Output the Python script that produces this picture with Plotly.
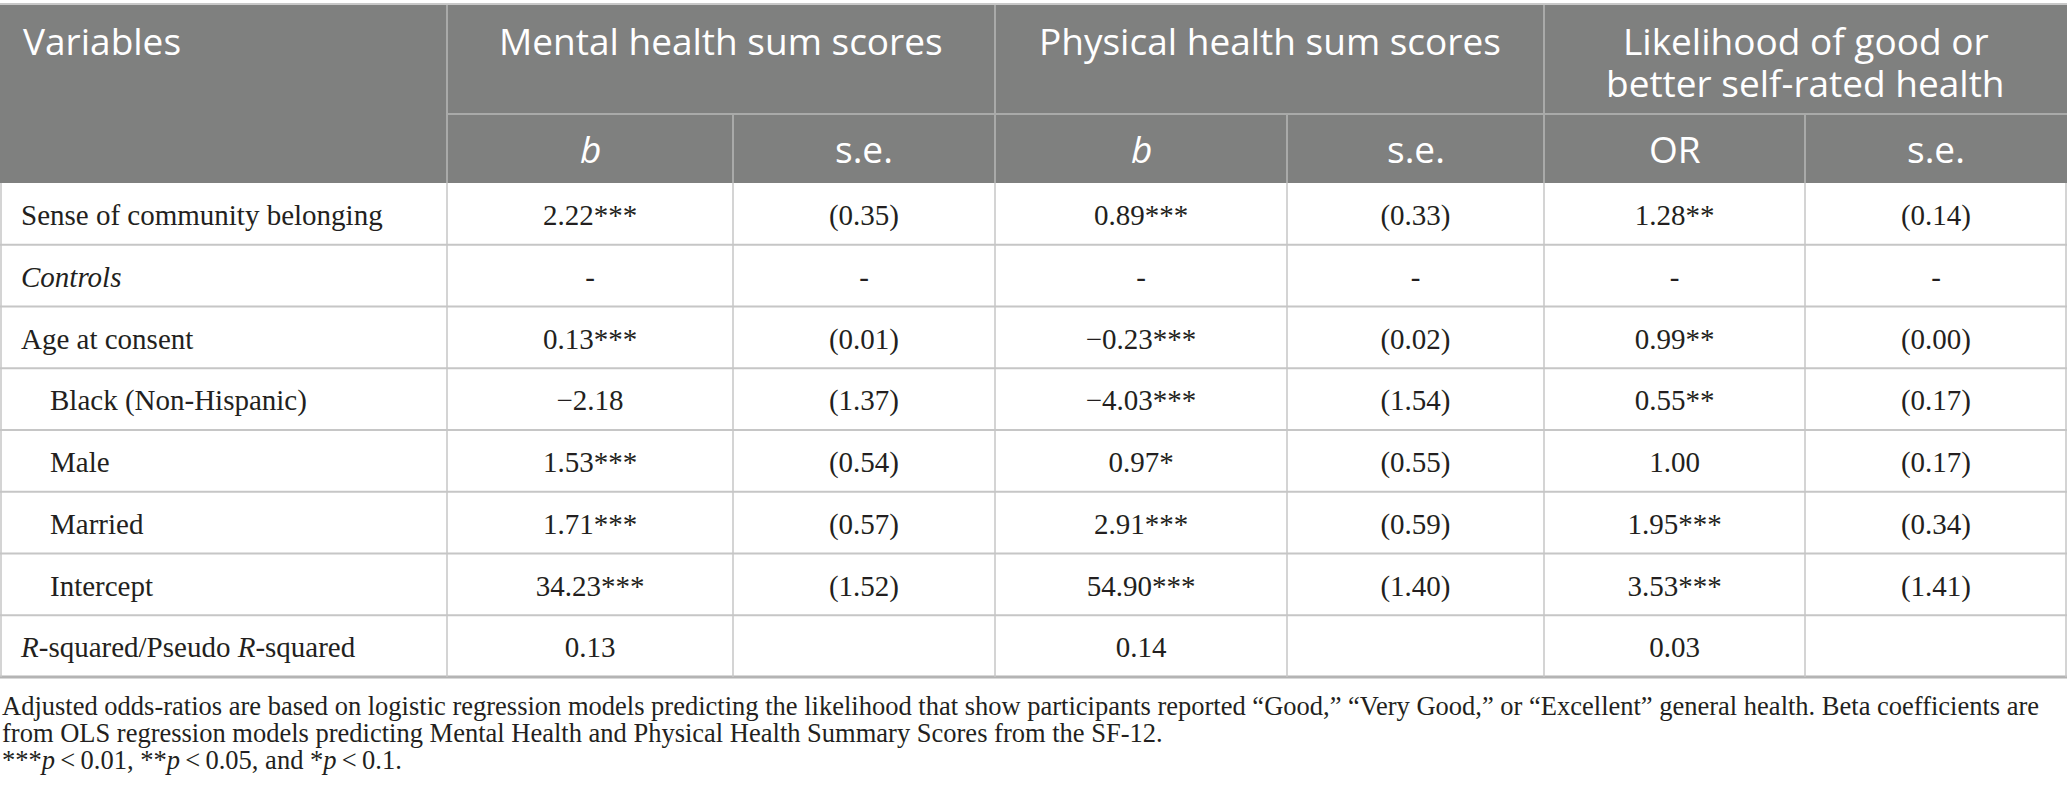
import plotly.graph_objects as go

# ---------------- data ----------------
variables = ["Sense of community belonging", "<i>Controls</i>", "Age at consent",
             "Black (Non-Hispanic)", "Male", "Married", "Intercept",
             "<i>R</i>-squared/Pseudo <i>R</i>-squared"]
indent = [0, 0, 0, 1, 1, 1, 1, 0]
mental_b = ["2.22***", "-", "0.13***", "\u22122.18", "1.53***", "1.71***", "34.23***", "0.13"]
mental_se = ["(0.35)", "-", "(0.01)", "(1.37)", "(0.54)", "(0.57)", "(1.52)", ""]
physical_b = ["0.89***", "-", "\u22120.23***", "\u22124.03***", "0.97*", "2.91***", "54.90***", "0.14"]
physical_se = ["(0.33)", "-", "(0.02)", "(1.54)", "(0.55)", "(0.59)", "(1.40)", ""]
or_vals = ["1.28**", "-", "0.99**", "0.55**", "1.00", "1.95***", "3.53***", "0.03"]
or_se = ["(0.14)", "-", "(0.00)", "(0.17)", "(0.17)", "(0.34)", "(1.41)", ""]

group_headers = [["Mental health sum scores"], ["Physical health sum scores"],
                 ["Likelihood of good or", "better self-rated health"]]
sub_headers = ["<i>b</i>", "s.e.", "<i>b</i>", "s.e.", "OR", "s.e."]
footnotes = [
    "Adjusted odds-ratios are based on logistic regression models predicting the likelihood that show participants reported \u201cGood,\u201d \u201cVery Good,\u201d or \u201cExcellent\u201d general health. Beta coefficients are",
    "from OLS regression models predicting Mental Health and Physical Health Summary Scores from the SF-12.",
    "***<i>p</i>\u2009<\u20090.01, **<i>p</i>\u2009<\u20090.05, and *<i>p</i>\u2009<\u20090.1.",
]

# ---------------- layout constants ----------------
W, H = 2067, 807
col_edges = [0, 447, 733, 995, 1287, 1544, 1805, 2067]
head_top, head_mid, head_bot = 5, 114, 183
row_h = 61.75
n_rows = len(variables)
body_bot = head_bot + n_rows * row_h
text_dy = 4

HEAD_BG = "#7f807f"
HEAD_LINE = "#a9aaa9"
BODY_LINE = "#c6c6c6"
TXT = "#231f20"
SANS = "Open Sans"
SERIF = "Liberation Serif"
HEAD_SIZE = 37
BODY_SIZE = 29
NOTE_SIZE = 26.5

fig = go.Figure()

row_centers = [head_bot + (i + 0.5) * row_h + text_dy for i in range(n_rows)]

# left column
fig.add_trace(go.Scatter(
    x=[21 if d == 0 else 50 for d in indent], y=row_centers, text=variables,
    mode="text", textposition="middle right",
    textfont=dict(family=SERIF, size=BODY_SIZE, color=TXT), hoverinfo="skip", showlegend=False))

cols = [mental_b, mental_se, physical_b, physical_se, or_vals, or_se]
for j, vals in enumerate(cols):
    cx = (col_edges[j + 1] + col_edges[j + 2]) / 2
    fig.add_trace(go.Scatter(
        x=[cx] * n_rows, y=row_centers, text=vals, mode="text", textposition="middle center",
        textfont=dict(family=SERIF, size=BODY_SIZE, color=TXT), hoverinfo="skip", showlegend=False))

shapes = []
# header background
shapes.append(dict(type="rect", x0=0, x1=W, y0=head_top, y1=head_bot, fillcolor=HEAD_BG,
                   line=dict(width=0), layer="below"))
shapes.append(dict(type="line", x0=0, x1=W, y0=head_top - 1, y1=head_top - 1, line=dict(color="#c8c8c8", width=2)))
# header lines
shapes.append(dict(type="line", x0=col_edges[1], x1=W, y0=head_mid, y1=head_mid,
                   line=dict(color=HEAD_LINE, width=2)))
for x in [col_edges[1], col_edges[3], col_edges[5]]:
    shapes.append(dict(type="line", x0=x, x1=x, y0=head_top, y1=head_mid, line=dict(color=HEAD_LINE, width=2)))
for x in col_edges[1:-1]:
    shapes.append(dict(type="line", x0=x, x1=x, y0=head_mid, y1=head_bot, line=dict(color=HEAD_LINE, width=2)))
# body horizontal lines
for i in range(n_rows):
    y = head_bot + (i + 1) * row_h
    last = i == n_rows - 1
    shapes.append(dict(type="line", x0=0, x1=W, y0=y, y1=y,
                       line=dict(color="#b4b4b4" if last else BODY_LINE, width=3 if last else 2)))
# body vertical lines
for x in col_edges:
    xx = min(max(x, 1), W - 1)
    shapes.append(dict(type="line", x0=xx, x1=xx, y0=head_bot, y1=body_bot, line=dict(color=BODY_LINE, width=1.5)))

annotations = []
annotations.append(dict(x=21, y=40, text="Variables", showarrow=False, xanchor="left", yanchor="middle",
                        font=dict(family=SANS, size=HEAD_SIZE, color="white")))
for g, lines in enumerate(group_headers):
    cx = (col_edges[1 + 2 * g] + col_edges[3 + 2 * g]) / 2
    for k, txt in enumerate(lines):
        annotations.append(dict(x=cx, y=40 + k * 42, text=txt, showarrow=False, xanchor="center",
                                yanchor="middle", font=dict(family=SANS, size=HEAD_SIZE, color="white")))
for j, txt in enumerate(sub_headers):
    cx = (col_edges[j + 1] + col_edges[j + 2]) / 2
    annotations.append(dict(x=cx, y=(head_mid + head_bot) / 2, text=txt, showarrow=False,
                            xanchor="center", yanchor="middle",
                            font=dict(family=SANS, size=HEAD_SIZE, color="white")))
for k, txt in enumerate(footnotes):
    annotations.append(dict(x=0, y=706 + k * 27, text=txt, showarrow=False, xanchor="left", yanchor="middle",
                            font=dict(family=SERIF, size=NOTE_SIZE, color=TXT)))

fig.update_layout(
    width=W, height=H, margin=dict(l=0, r=0, t=0, b=0),
    paper_bgcolor="white", plot_bgcolor="white",
    xaxis=dict(range=[0, W], visible=False, fixedrange=True),
    yaxis=dict(range=[H, 0], visible=False, fixedrange=True),
    shapes=shapes, annotations=annotations,
)

fig.write_html("out.html", config=dict(displayModeBar=False),
               post_script="document.body.style.margin='0';document.body.style.overflow='hidden';")
